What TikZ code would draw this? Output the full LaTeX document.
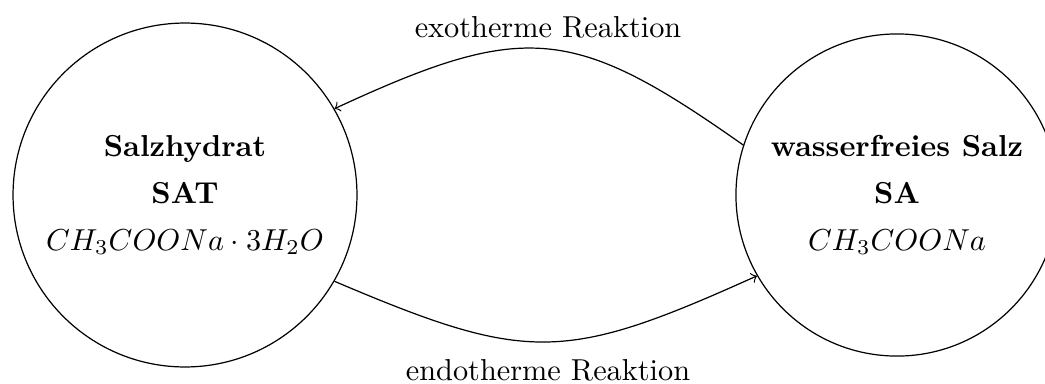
\documentclass[tikz,border=0pt]{standalone}
\begin{document}
\begin{tikzpicture}[x=0.33pt,y=-0.33pt,
  state/.style={draw,circle,align=center,inner sep=0pt},
  lbl/.style={inner sep=0pt},
  conn/.style={->}]
\useasboundingbox (0,0) rectangle (1045,383);
\node[state,minimum size=113.5pt] (SAT) at (185,195)
  {\textbf{Salzhydrat}\\[3.5pt]\textbf{SAT}\\[3.5pt]$CH_3COONa\cdot 3H_2O$};
\node[state,minimum size=106.3pt] (SA) at (897,195)
  {\textbf{wasserfreies Salz}\\[3.5pt]\textbf{SA}\\[3.5pt]$CH_3COONa$};
\draw[conn] (SA.162) .. controls +(-170,-120) and +(190,-88) .. (SAT.30);
\draw[conn] (SAT.-30) .. controls +(193,82) and +(-193,87) .. (SA.210);
\node[lbl] (exo) at (548,27) {exotherme Reaktion};
\node[lbl] (endo) at (548,370) {endotherme Reaktion};
\end{tikzpicture}
\end{document}
